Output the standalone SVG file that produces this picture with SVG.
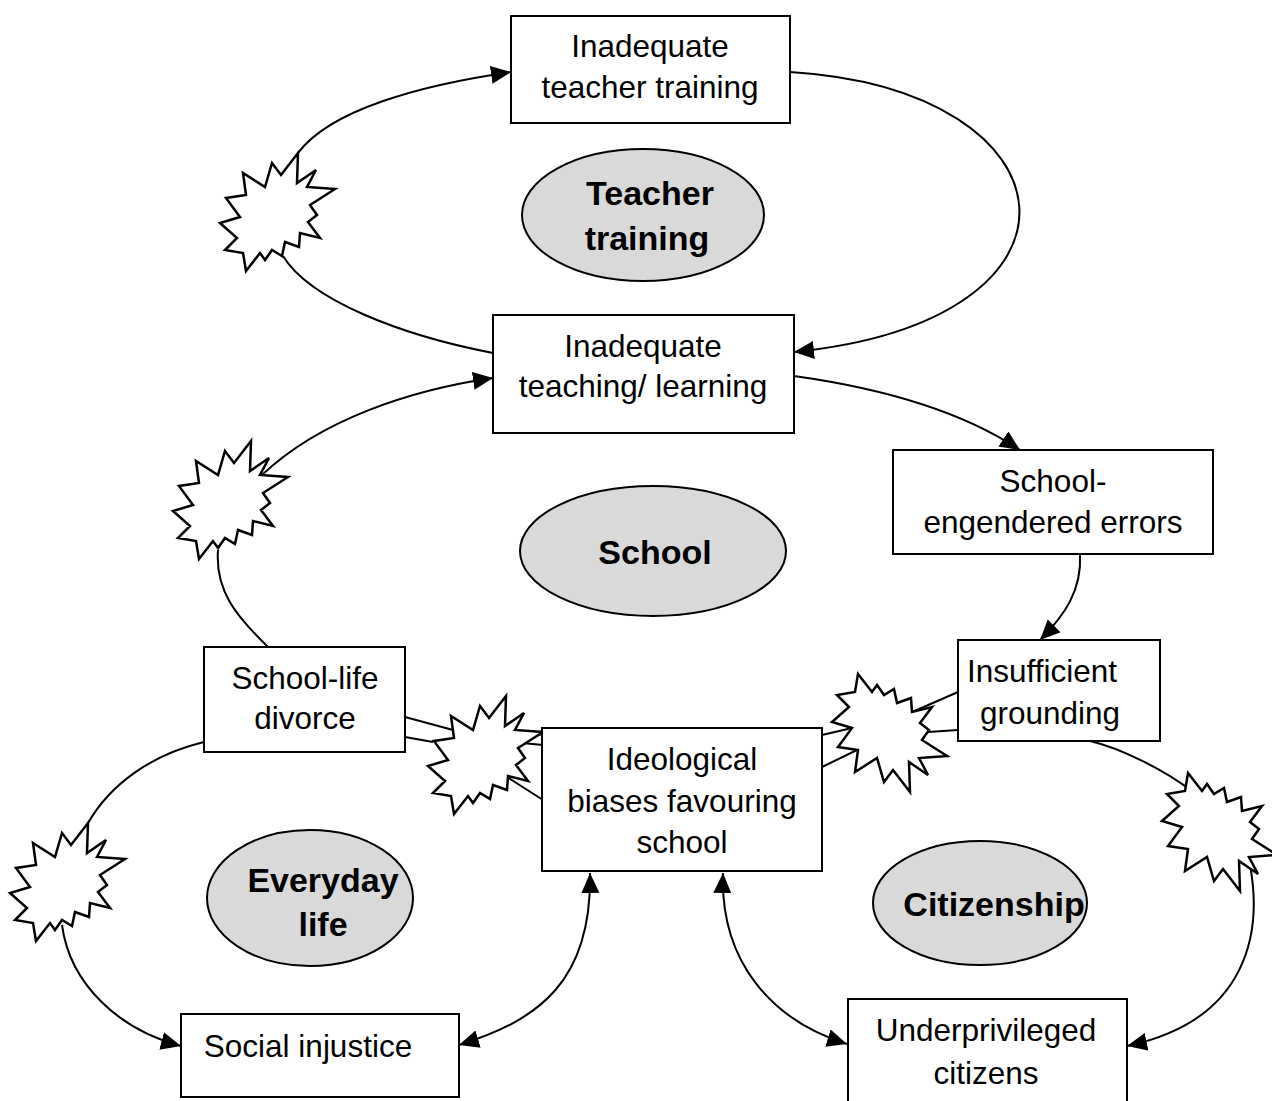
<svg xmlns="http://www.w3.org/2000/svg" xmlns:xlink="http://www.w3.org/1999/xlink" width="1272" height="1101" viewBox="0 0 1272 1101">
<style>
.box{fill:#fff;stroke:#000;stroke-width:2}
.ell{fill:#d9d9d9;stroke:#000;stroke-width:2}
.t{font-family:"Liberation Sans",Arial,sans-serif;font-size:31.5px;fill:#000;text-anchor:middle}
.b{font-family:"Liberation Sans",Arial,sans-serif;font-size:34px;font-weight:bold;fill:#000;text-anchor:middle}
.c{fill:none;stroke:#000;stroke-width:2}
.star{fill:#fff;stroke:#000;stroke-width:2.5;stroke-linejoin:miter}
</style>
<defs>
<marker id="ah" markerUnits="userSpaceOnUse" markerWidth="22" markerHeight="20" refX="20" refY="9" orient="auto-start-reverse" viewBox="0 0 22 20">
<path d="M0,0 L20,9 L0,18 Z" fill="#000"/>
</marker>
<polygon id="burst" points="20,-59 3,-37 -6,-49 -13,-25 -35,-39 -32,-17 -52,-14 -38,5 -58,11 -41,26 -53,38 -35,41 -32,59 -18,41 -13,48 -6,38 4,44 7,30 21,35 22,21 42,26 30,10 39,3 32,-7 57,-23 29,-25 38,-42 19,-29"/>
</defs>
<rect width="1272" height="1101" fill="#fff"/>

<g id="connectors">
<path class="c" d="M493,353 C400,335 310,300 283,256"/>
<path class="c" d="M298,153 C330,110 420,85 511,72" marker-end="url(#ah)"/>
<path class="c" d="M790,72 C1080,90 1110,320 794,352" marker-end="url(#ah)"/>
<path class="c" d="M794,376 C880,388 960,410 1020,450" marker-end="url(#ah)"/>
<path class="c" d="M1080,554 C1082,590 1065,615 1040,640" marker-end="url(#ah)"/>
<path class="c" d="M268,647 C235,615 215,590 218,550"/>
<path class="c" d="M262,475 C320,420 410,390 493,378" marker-end="url(#ah)"/>
<path class="c" d="M405,717 L453,730 M405,737 L433,742 M522,743 L543,733 M522,743 L543,745 M507,777 L543,800"/>
<path class="c" d="M822,735 L852,728 M822,767 L857,750 M910,713 L958,692 M928,732 L958,730"/>
<path class="c" d="M204,742 C150,755 110,785 88,823"/>
<path class="c" d="M62,925 C70,985 120,1030 181,1046" marker-end="url(#ah)"/>
<path class="c" d="M1090,741 C1120,748 1165,770 1193,792"/>
<path class="c" d="M1250,865 C1262,930 1250,1020 1127,1046" marker-end="url(#ah)"/>
<path class="c" d="M459,1045 C540,1020 592,980 590,873" marker-start="url(#ah)" marker-end="url(#ah)"/>
<path class="c" d="M723,873 C720,960 770,1020 847,1044" marker-start="url(#ah)" marker-end="url(#ah)"/>
</g>

<g id="bursts">
<use xlink:href="#burst" href="#burst" class="star" transform="translate(278,212)"/>
<use xlink:href="#burst" href="#burst" class="star" transform="translate(231,500)"/>
<use xlink:href="#burst" href="#burst" class="star" transform="translate(486,755)"/>
<use xlink:href="#burst" href="#burst" class="star" transform="translate(890,733) scale(1,-1)"/>
<use xlink:href="#burst" href="#burst" class="star" transform="translate(68,882)"/>
<use xlink:href="#burst" href="#burst" class="star" transform="translate(1220,832) scale(1,-1)"/>
</g>

<g id="n1"><rect class="box" x="511" y="16" width="279" height="107"/>
<text class="t" x="650" y="57">Inadequate</text><text class="t" x="650" y="98">teacher training</text></g>
<g id="n2"><rect class="box" x="493" y="315" width="301" height="118"/>
<text class="t" x="643" y="357">Inadequate</text><text class="t" x="643" y="397">teaching/ learning</text></g>
<g id="n3"><rect class="box" x="893" y="450" width="320" height="104"/>
<text class="t" x="1053" y="492">School-</text><text class="t" x="1053" y="533">engendered errors</text></g>
<g id="n4"><rect class="box" x="958" y="640" width="202" height="101"/>
<text class="t" x="1042" y="682">Insufficient</text><text class="t" x="1050" y="724">grounding</text></g>
<g id="n5"><rect class="box" x="204" y="647" width="201" height="105"/>
<text class="t" x="305" y="689">School-life</text><text class="t" x="305" y="729">divorce</text></g>
<g id="n6"><rect class="box" x="542" y="728" width="280" height="143"/>
<text class="t" x="682" y="770">Ideological</text><text class="t" x="682" y="812">biases favouring</text><text class="t" x="682" y="853">school</text></g>
<g id="n7"><rect class="box" x="181" y="1014" width="278" height="83"/>
<text class="t" x="308" y="1057">Social injustice</text></g>
<g id="n8"><rect class="box" x="848" y="999" width="279" height="110"/>
<text class="t" x="986" y="1041">Underprivileged</text><text class="t" x="986" y="1084">citizens</text></g>

<g id="e1"><ellipse class="ell" cx="643" cy="215" rx="121" ry="66"/>
<text class="b" x="650" y="205">Teacher</text><text class="b" x="647" y="250">training</text></g>
<g id="e2"><ellipse class="ell" cx="653" cy="551" rx="133" ry="65"/>
<text class="b" x="655" y="564">School</text></g>
<g id="e3"><ellipse class="ell" cx="310" cy="898" rx="103" ry="68"/>
<text class="b" x="323" y="892">Everyday</text><text class="b" x="323" y="936">life</text></g>
<g id="e4"><ellipse class="ell" cx="980" cy="903" rx="107" ry="62"/>
<text class="b" x="994" y="916">Citizenship</text></g>
</svg>
